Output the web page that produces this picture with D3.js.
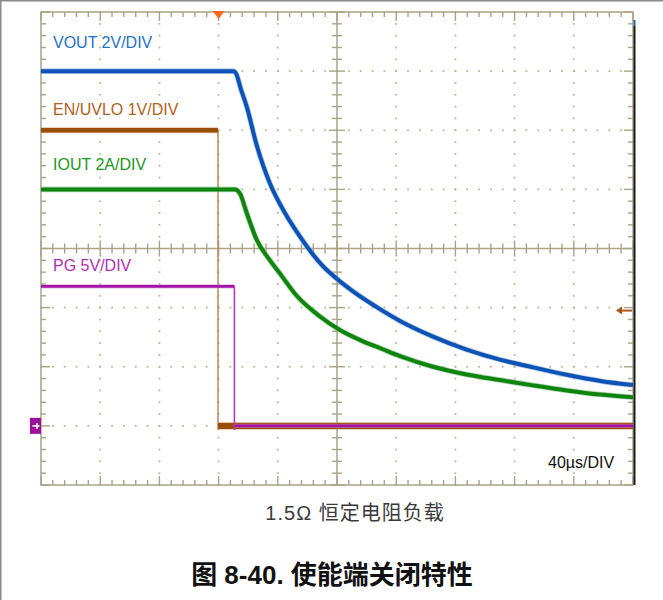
<!DOCTYPE html>
<html>
<head>
<meta charset="utf-8">
<script src="https://cdn.jsdelivr.net/npm/d3@7/dist/d3.min.js"></script>
<style>
  html, body { margin: 0; padding: 0; background: #fff; }
  svg { display: block; }
</style>
</head>
<body>
<svg id="chart" width="663" height="600"></svg>
<script>
// ---------------- data (time in µs, values in channel units) ----------------
const timePerDiv = 40;            // 40µs/DIV
const timeTicks = d3.range(0, 401, 40);

const voutTime  = [0, 130, 132, 135, 139, 145.7, 154.7, 161.5, 175, 190.5, 200.5, 210.8, 229, 242.6, 264.9, 287.6, 310.1, 332.4, 355.2, 378, 400];
const voutVolts = [12, 12, 11.9, 11.4, 10.8, 9.5, 8.2, 7.5, 6.4, 5.4, 4.95, 4.55, 3.95, 3.55, 3.02, 2.58, 2.24, 1.98, 1.73, 1.52, 1.38];

const ioutTime  = [0, 131, 134.5, 139, 145.7, 154.7, 161.5, 172.8, 188.5, 202, 217.6, 229.1, 242.6, 264.9, 287.6, 310.1, 332.4, 355.2, 378, 400];
const ioutAmps  = [8, 8, 7.85, 7.2, 6.3, 5.6, 5.15, 4.4, 3.7, 3.24, 2.86, 2.63, 2.36, 2.0, 1.74, 1.55, 1.37, 1.2, 1.06, 0.97];

const enTime    = [0, 119.6, 119.6, 400];
const enVolts   = [5, 5, 0, 0];
const enTrigger = 1.95;

const pgTime    = [0, 130.7, 130.7, 400];
const pgVolts   = [11.8, 11.8, 0, 0];

const channels = [
  { name: "VOUT 2V/DIV",    perDiv: 2, t: voutTime, v: voutVolts, color: "#0d52b4", halo: "#86acdf", textColor: "#1f72c8", width: 4,   labelY: 48,  smooth: true },
  { name: "EN/UVLO 1V/DIV", perDiv: 1, t: enTime,   v: enVolts,   color: "#9a4d05", halo: "#c89a6a", textColor: "#b3601a", width: 4.5, labelY: 115, smooth: false, thin: "#c48d5c" },
  { name: "IOUT 2A/DIV",    perDiv: 2, t: ioutTime, v: ioutAmps,  color: "#0f840f", halo: "#84c284", textColor: "#1c961c", width: 4,   labelY: 170, smooth: true },
  { name: "PG 5V/DIV",      perDiv: 5, t: pgTime,   v: pgVolts,   color: "#a414a4", halo: "#d190d1", textColor: "#b02fb0", width: 2.6, labelY: 271, smooth: false, thin: "#b13cb1" }
];

// ---------------- layout ----------------
const X0 = 41, X1 = 633, Y0 = 12, Y1 = 485;
const svg = d3.select("#chart");
const x = d3.scaleLinear().domain([0, 400]).range([X0, X1]);
const y = d3.scaleLinear().domain([-1, 7]).range([Y1, Y0]);   // divisions above ground
const gridColor = "#aaa386";
const dotColor = "#bdb69e";

// outer page box lines
svg.append("line").attr("x1", 0).attr("x2", 663).attr("y1", 0.75).attr("y2", 0.75).attr("stroke", "#8a8a8a").attr("stroke-width", 1.5);
svg.append("line").attr("x1", 0.75).attr("x2", 0.75).attr("y1", 0).attr("y2", 600).attr("stroke", "#8a8a8a").attr("stroke-width", 1.5);

const g = svg.append("g");

// dotted grid
const minorT = d3.range(0, 400.001, timePerDiv / 5);
const minorD = d3.range(-1, 7.001, 0.2);
const majorD = d3.range(-1, 7.001, 1);
timeTicks.filter(t => t !== 0 && t !== 200 && t !== 400).forEach(t => {
  minorD.forEach(d => {
    g.append("rect").attr("x", x(t) - 0.9).attr("y", y(d) - 0.9).attr("width", 1.8).attr("height", 1.8).attr("fill", dotColor);
  });
});
majorD.filter(d => d !== -1 && d !== 3 && d !== 7).forEach(d => {
  minorT.forEach(t => {
    g.append("rect").attr("x", x(t) - 0.9).attr("y", y(d) - 0.9).attr("width", 1.8).attr("height", 1.8).attr("fill", dotColor);
  });
});

// center cross lines with ticks
g.append("line").attr("x1", x(200)).attr("x2", x(200)).attr("y1", Y0).attr("y2", Y1).attr("stroke", gridColor).attr("stroke-width", 1.5);
g.append("line").attr("x1", X0).attr("x2", X1).attr("y1", y(3)).attr("y2", y(3)).attr("stroke", gridColor).attr("stroke-width", 1.5);
minorD.forEach((d, i) => {
  const L = (i % 5 === 0) ? 8 : 5;
  g.append("line").attr("x1", x(200) - L).attr("x2", x(200) + L).attr("y1", y(d)).attr("y2", y(d)).attr("stroke", gridColor).attr("stroke-width", 1.4);
});
minorT.forEach((t, i) => {
  const L = (i % 5 === 0) ? 8 : 5;
  g.append("line").attr("x1", x(t)).attr("x2", x(t)).attr("y1", y(3) - L).attr("y2", y(3) + L).attr("stroke", gridColor).attr("stroke-width", 1.4);
});

// frame and inward ticks
g.append("rect").attr("x", X0).attr("y", Y0).attr("width", X1 - X0).attr("height", Y1 - Y0)
  .attr("fill", "none").attr("stroke", gridColor).attr("stroke-width", 1.5);
minorT.forEach((t, i) => {
  const L = (i % 5 === 0) ? 9 : 5;
  g.append("line").attr("x1", x(t)).attr("x2", x(t)).attr("y1", Y0).attr("y2", Y0 + L).attr("stroke", gridColor).attr("stroke-width", 1.4);
  g.append("line").attr("x1", x(t)).attr("x2", x(t)).attr("y1", Y1).attr("y2", Y1 - L).attr("stroke", gridColor).attr("stroke-width", 1.4);
});
minorD.forEach((d, i) => {
  const L = (i % 5 === 0) ? 9 : 5;
  g.append("line").attr("x1", X0).attr("x2", X0 + L).attr("y1", y(d)).attr("y2", y(d)).attr("stroke", gridColor).attr("stroke-width", 1.4);
  g.append("line").attr("x1", X1).attr("x2", X1 - L).attr("y1", y(d)).attr("y2", y(d)).attr("stroke", gridColor).attr("stroke-width", 1.4);
});

// right dark edge line
g.append("line").attr("x1", X1 + 1.5).attr("x2", X1 + 1.5).attr("y1", 26).attr("y2", Y1).attr("stroke", "#1a1a1a").attr("stroke-width", 2);
g.append("line").attr("x1", X1 + 1.5).attr("x2", X1 + 1.5).attr("y1", 20).attr("y2", 26).attr("stroke", "#2a62b8").attr("stroke-width", 2);

// ---------------- traces ----------------
function drawChannel(ch) {
  const pts = ch.t.map((t, i) => [t, ch.v[i] / ch.perDiv]);
  const runs = [];
  const verticals = [];
  let cur = [pts[0]];
  for (let i = 1; i < pts.length; i++) {
    if (pts[i][0] === pts[i - 1][0]) {
      runs.push(cur);
      verticals.push([pts[i - 1], pts[i]]);
      cur = [pts[i]];
    } else {
      cur.push(pts[i]);
    }
  }
  runs.push(cur);
  const line = d3.line().x(p => x(p[0])).y(p => y(p[1]));
  if (ch.smooth) line.curve(d3.curveMonotoneX);
  const tg = svg.append("g");
  verticals.forEach(vv => {
    tg.append("line").attr("x1", x(vv[0][0])).attr("x2", x(vv[1][0]))
      .attr("y1", y(vv[0][1])).attr("y2", y(vv[1][1]) + 4)
      .attr("stroke", ch.thin).attr("stroke-width", 1.6);
  });
  runs.forEach((r, ri) => {
    if (r.length < 2) return;
    // ground-level run of EN is noisier (wider band) than the others
    const w = (ch.perDiv === 1 && ri > 0) ? ch.width + 1.5 : ch.width;
    tg.append("path").attr("d", line(r)).attr("fill", "none")
      .attr("stroke", ch.halo).attr("stroke-width", w + 1.6).attr("stroke-linejoin", "round").attr("opacity", 0.6);
    tg.append("path").attr("d", line(r)).attr("fill", "none")
      .attr("stroke", ch.color).attr("stroke-width", w).attr("stroke-linejoin", "round");
  });
  svg.append("text").attr("x", 53).attr("y", ch.labelY)
    .attr("font-family", "'Liberation Sans', Arial, sans-serif").attr("font-size", 16)
    .attr("fill", ch.textColor).text(ch.name);
}
channels.forEach(drawChannel);

// ---------------- markers ----------------
// trigger position (orange triangle)
const tx = x(120);
svg.append("path").attr("d", `M${tx - 6},${Y0 - 1}L${tx + 6},${Y0 - 1}L${tx},${Y0 + 7}Z`).attr("fill", "#ff6a1f");
// trigger level arrow (EN)
const ay = y(enTrigger / 1);
svg.append("path").attr("d", `M${X1 - 1},${ay}L${X1 - 14},${ay}`).attr("stroke", "#b0561a").attr("stroke-width", 2);
svg.append("path").attr("d", `M${X1 - 17},${ay}L${X1 - 11},${ay - 4}L${X1 - 11},${ay + 4}Z`).attr("fill", "#b0561a");
// ground marker (PG)
const gy = y(0);
svg.append("rect").attr("x", 30).attr("y", gy - 8).attr("width", 11).attr("height", 16).attr("fill", "#9c109c");
svg.append("path").attr("d", `M32.5,${gy}L39.5,${gy}M37,${gy - 3}L37,${gy + 3}`).attr("stroke", "#fff").attr("stroke-width", 1.6);

// time/div label
svg.append("text").attr("x", 548).attr("y", 468)
  .attr("font-family", "'Liberation Sans', Arial, sans-serif").attr("font-size", 16)
  .attr("fill", "#111").text("40µs/DIV");

// caption & title
svg.append("text").attr("x", 355).attr("y", 520).attr("text-anchor", "middle")
  .attr("font-family", "'Liberation Sans', 'Noto Sans CJK SC', sans-serif").attr("font-size", 20)
  .attr("letter-spacing", 1).attr("fill", "#3a3a3a").text("1.5Ω 恒定电阻负载");
svg.append("text").attr("x", 332).attr("y", 584).attr("text-anchor", "middle")
  .attr("font-family", "'Liberation Sans', 'Noto Sans CJK SC', sans-serif").attr("font-size", 26).attr("font-weight", "bold")
  .attr("fill", "#111").text("图 8-40. 使能端关闭特性");
</script>
</body>
</html>
